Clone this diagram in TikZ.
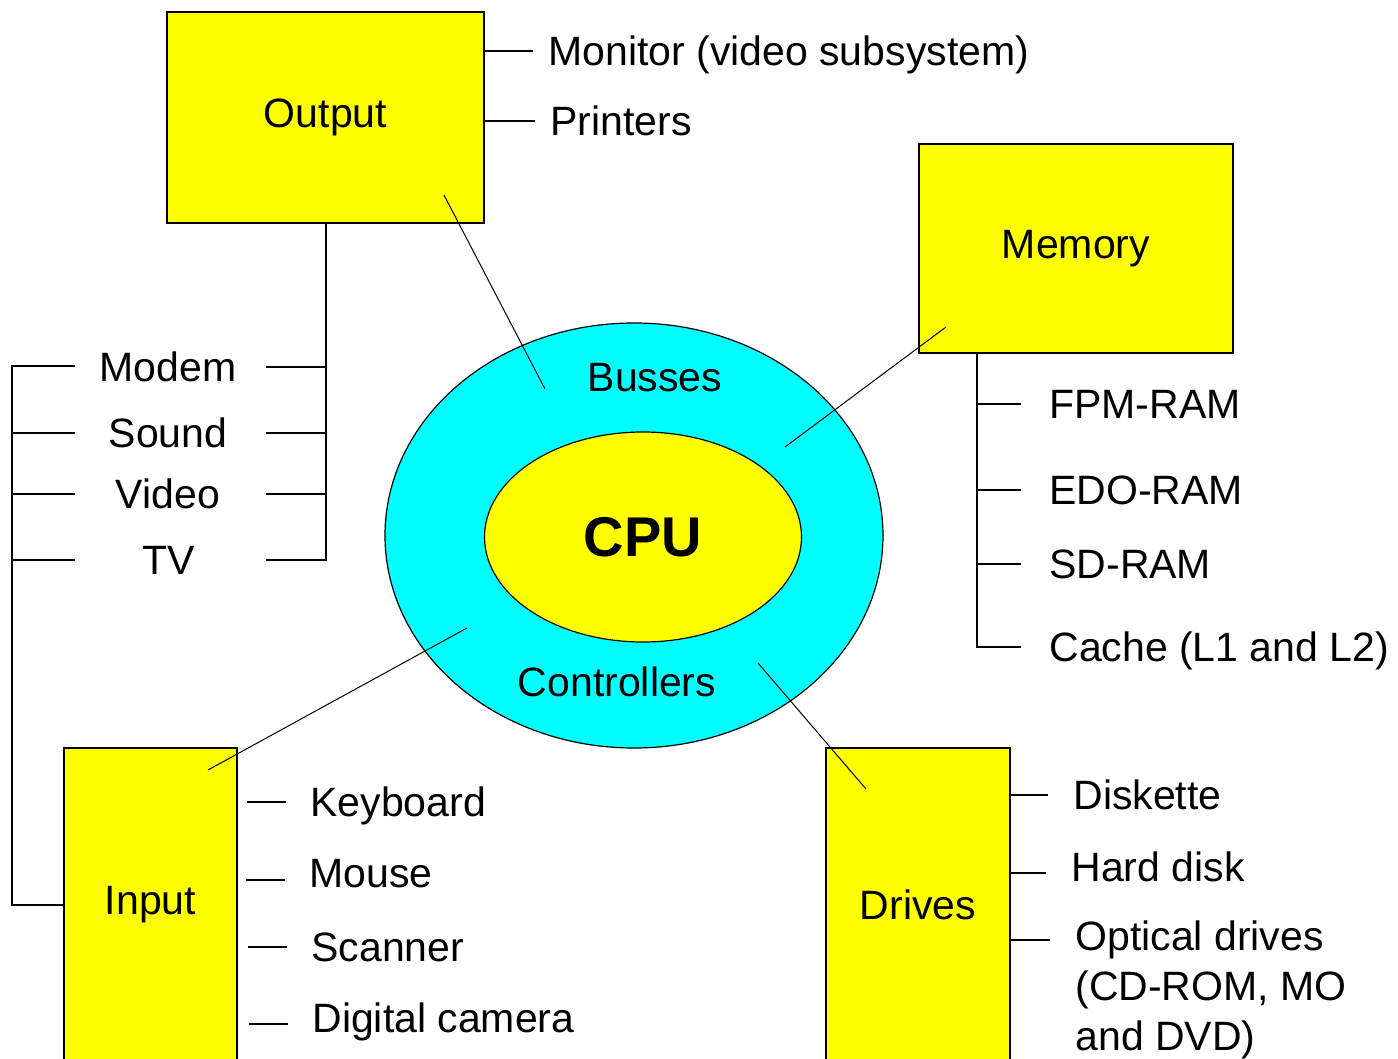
\documentclass[tikz,border=0pt]{standalone}
\usepackage{fontspec}
\setmainfont{Liberation Sans}
\usepackage{xcolor}
\usepackage{tikz}
\usetikzlibrary{positioning}
\usetikzlibrary{shapes.geometric}

\definecolor{boxyellow}{RGB}{255,255,0}
\definecolor{buscyan}{RGB}{0,255,255}

\begin{document}
\begin{tikzpicture}[x=0.5pt, y=-0.5pt, font=\fontsize{20.5}{25}\selectfont,
  box/.style={draw, line width=1pt, fill=boxyellow, inner sep=0pt},
  item/.style={anchor=west, inner sep=0pt, text height=14.6pt, text depth=0pt},
  mid/.style={inner sep=0pt, text height=14.6pt, text depth=0pt},
  tick/.style={line width=1pt},
  wire/.style={line width=0.5pt}]
\useasboundingbox (0,0) rectangle (1398,1059);
\clip (0,0) rectangle (1398,1059);

% CPU with busses and controllers
\node[ellipse, draw, line width=0.6pt, fill=buscyan, inner sep=0pt,
  minimum width=249pt, minimum height=212.5pt] (bus) at (634,535.5) {};
\node[ellipse, draw, line width=0.6pt, fill=boxyellow, inner sep=0pt,
  minimum width=158.5pt, minimum height=105pt,
  font=\bfseries\fontsize{28}{32}\selectfont] (cpu) at (643,537) {CPU};
\node[mid] (busses) at (655,377) {Busses};
\node[mid] (ctrl) at (617,682) {Controllers};

% the four units
\node[box, minimum width=158.5pt, minimum height=105.5pt] (output) at (325.5,117.5) {Output};
\node[box, minimum width=157pt, minimum height=104.5pt] (memory) at (1076,248.5) {Memory};
\node[box, minimum width=86.5pt, minimum height=157pt] (input) at (150.5,905) {Input};
\node[box, minimum width=92pt, minimum height=157pt] (drives) at (918,905) {Drives};

% output devices
\node[item] (monitor) at (548,51) {Monitor (video subsystem)};
\node[item] (printers) at (550,121) {Printers};
\foreach \n in {monitor,printers}
  \draw[tick] (output.east |- \n) -- ([xshift=-7.5pt]\n.west);

% cards
\node[mid] (modem) at (168,367) {Modem};
\node[mid] (sound) at (168,433) {Sound};
\node[mid] (video) at (168,494) {Video};
\node[mid] (tv) at (169,560) {TV};
\coordinate (lbus) at (12,366);
\draw[tick] (input.west) -| (lbus) -- +(63,0);
\foreach \n in {sound,video,tv}
  \draw[tick] (lbus |- \n) -- +(63,0);
\draw[tick] (output.south) -- (output.south |- tv) -- +(-60,0);
\foreach \n in {modem,sound,video}
  \draw[tick] (output.south |- \n) -- +(-60,0);

% memory types
\node[item] (fpm) at (1049,404) {FPM-RAM};
\node[item] (edo) at (1049,490) {EDO-RAM};
\node[item] (sd) at (1049,564) {SD-RAM};
\node[item] (cache) at (1049,647) {Cache (L1 and L2)};
\coordinate (mbus) at ([xshift=29.5pt]memory.south west);
\draw[tick] (mbus) |- ([xshift=-14pt]cache.west);
\foreach \n in {fpm,edo,sd}
  \draw[tick] (mbus |- \n) -- ([xshift=-14pt]\n.west);

% input devices
\node[item] (kbd) at (310,802) {Keyboard};
\node[item] (mouse) at (309,873) {Mouse};
\node[item] (scan) at (311,947) {Scanner};
\node[item] (cam) at (312,1018) {Digital camera};
\foreach \n/\s in {kbd/0pt,mouse/-3.5pt,scan/0pt,cam/-3pt}
  \draw[tick] ([xshift=-12pt, yshift=\s]\n.west) -- +(-19.5pt,0);

% drives
\node[item] (disk) at (1073,795) {Diskette};
\node[item] (hdd) at (1071,867) {Hard disk};
\node[item] (optical) at (1075,936) {Optical drives};
\node[item] (opticalb) at (1075,986) {(CD-ROM, MO};
\node[item] (opticalc) at (1075,1036) {and DVD)};
\foreach \n/\s in {disk/0pt,hdd/-3pt,optical/-2pt}
  \draw[tick] ([yshift=\s]drives.east |- \n) -- ([xshift=-12.5pt, yshift=\s]\n.west);

% links to the busses and controllers
\coordinate (outtip) at (444,195);
\coordinate (busout) at (545,389);
\coordinate (memtip) at (946,327);
\coordinate (busmem) at (785,447);
\coordinate (intip) at (208,770);
\coordinate (ctrlin) at (467,628);
\coordinate (drvtip) at (866,789);
\coordinate (ctrldrv) at (758,663);
\draw[wire] (outtip) -- (busout);
\draw[wire] (memtip) -- (busmem);
\draw[wire] (intip) -- (ctrlin);
\draw[wire] (drvtip) -- (ctrldrv);
\end{tikzpicture}
\end{document}
